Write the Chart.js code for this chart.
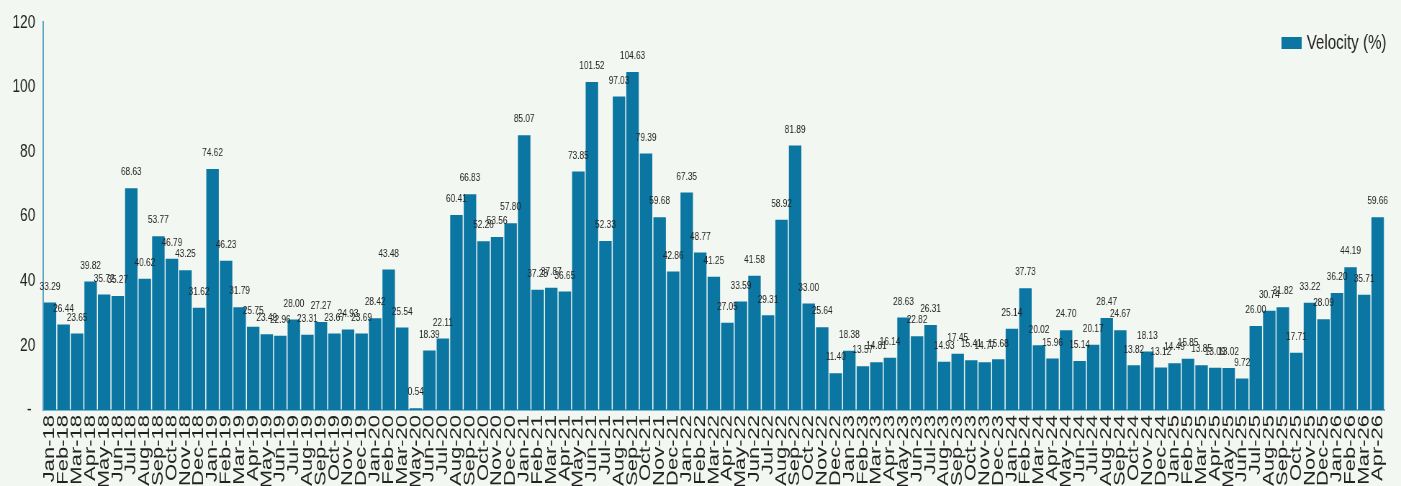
<!DOCTYPE html>
<html>
<head>
<meta charset="utf-8">
<script src="https://cdn.jsdelivr.net/npm/chart.js@4.4.1/dist/chart.umd.min.js"></script>
<style>
  html, body { margin: 0; padding: 0; background: #f3f7f2; overflow: hidden; width: 1401px; height: 486px; }
  #wrap { position: absolute; left: 0; top: 0; width: 1946px; height: 486px; transform: scaleX(0.71994); transform-origin: 0 0; }
</style>
</head>
<body>
<div id="wrap"><canvas id="c"></canvas></div>
<script>
const categories = [
  'Jan-18','Feb-18','Mar-18','Apr-18','May-18','Jun-18','Jul-18','Aug-18','Sep-18','Oct-18','Nov-18','Dec-18',
  'Jan-19','Feb-19','Mar-19','Apr-19','May-19','Jun-19','Jul-19','Aug-19','Sep-19','Oct-19','Nov-19','Dec-19',
  'Jan-20','Feb-20','Mar-20','May-20','Jun-20','Jul-20','Aug-20','Sep-20','Oct-20','Nov-20','Dec-20',
  'Jan-21','Feb-21','Mar-21','Apr-21','May-21','Jun-21','Jul-21','Aug-21','Sep-21','Oct-21','Nov-21','Dec-21',
  'Jan-22','Feb-22','Mar-22','Apr-22','May-22','Jun-22','Jul-22','Aug-22','Sep-22','Oct-22','Nov-22','Dec-22',
  'Jan-23','Feb-23','Mar-23','Apr-23','May-23','Jun-23','Jul-23','Aug-23','Sep-23','Oct-23','Nov-23','Dec-23',
  'Jan-24','Feb-24','Mar-24','Apr-24','May-24','Jun-24','Jul-24','Aug-24','Sep-24','Oct-24','Nov-24','Dec-24',
  'Jan-25','Feb-25','Mar-25','Apr-25','May-25','Jun-25','Jul-25','Aug-25','Sep-25','Oct-25','Nov-25','Dec-25',
  'Jan-26','Feb-26','Mar-26','Apr-26'
];

const velocity = [
  33.29, 26.44, 23.65, 39.82, 35.72, 35.27, 68.63, 40.62, 53.77, 46.79, 43.25, 31.62,
  74.62, 46.23, 31.79, 25.75, 23.49, 22.96, 28.00, 23.31, 27.27, 23.67, 24.93, 23.69,
  28.42, 43.48, 25.54, 0.54, 18.39, 22.11, 60.41, 66.83, 52.26, 53.56, 57.80,
  85.07, 37.23, 37.87, 36.65, 73.85, 101.52, 52.33, 97.03, 104.63, 79.39, 59.68, 42.86,
  67.35, 48.77, 41.25, 27.05, 33.59, 41.58, 29.31, 58.92, 81.89, 33.00, 25.64, 11.40,
  18.38, 13.57, 14.81, 16.14, 28.63, 22.82, 26.31, 14.93, 17.45, 15.41, 14.77, 15.68,
  25.14, 37.73, 20.02, 15.96, 24.70, 15.14, 20.17, 28.47, 24.67, 13.82, 18.13, 13.12,
  14.49, 15.85, 13.85, 13.09, 13.02, 9.72, 26.00, 30.74, 31.82, 17.71, 33.22, 28.09,
  36.20, 44.19, 35.71, 59.66
];

const seriesName = 'Velocity (%)';
const yMin = 0;
const yMax = 120;
const yStep = 20;

const FONT = '"Liberation Sans", Arial, sans-serif';
const BAR_COLOR = '#0a76a1';

const valueLabels = {
  id: 'valueLabels',
  afterDatasetsDraw(chart) {
    const ctx = chart.ctx;
    const meta = chart.getDatasetMeta(0);
    const values = chart.data.datasets[0].data;
    ctx.save();
    ctx.font = '11.5px ' + FONT;
    ctx.fillStyle = '#222';
    ctx.textAlign = 'center';
    ctx.textBaseline = 'middle';
    meta.data.forEach((bar, i) => {
      ctx.fillText(Number(values[i]).toFixed(2), bar.x, bar.y - 16);
    });
    ctx.restore();
  }
};

const legendBox = {
  id: 'legendBox',
  afterDraw(chart) {
    const ctx = chart.ctx;
    const ds = chart.data.datasets[0];
    const x0 = chart.width - 166;
    ctx.save();
    ctx.fillStyle = ds.backgroundColor;
    ctx.fillRect(x0, 37, 28, 12);
    ctx.font = '21px ' + FONT;
    ctx.fillStyle = '#222';
    ctx.textAlign = 'left';
    ctx.textBaseline = 'middle';
    ctx.fillText(ds.label, x0 + 35, 43.5);
    ctx.restore();
  }
};

new Chart(document.getElementById('c'), {
  type: 'bar',
  data: {
    labels: categories,
    datasets: [{
      label: seriesName,
      data: velocity,
      backgroundColor: BAR_COLOR,
      borderWidth: 0,
      barPercentage: 0.92,
      categoryPercentage: 1.0
    }]
  },
  options: {
    responsive: true,
    maintainAspectRatio: false,
    animation: false,
    devicePixelRatio: 1,
    layout: { padding: { top: 21, right: 23, left: 0, bottom: 0 } },
    plugins: {
      legend: { display: false },
      tooltip: { enabled: false }
    },
    scales: {
      x: {
        grid: { display: false, drawTicks: false },
        border: { display: true, color: '#7db7cf', width: 2 },
        ticks: {
          autoSkip: false,
          minRotation: 90,
          maxRotation: 90,
          padding: 5,
          color: '#222',
          font: { family: FONT, size: 22 }
        },
        afterFit(scale) { scale.height = 76; }
      },
      y: {
        min: yMin,
        max: yMax,
        grid: { display: false, drawTicks: false },
        border: { display: true, color: '#5aa3c4', width: 2 },
        ticks: {
          stepSize: yStep,
          padding: 11,
          color: '#222',
          font: { family: FONT, size: 19 },
          callback: (v) => (v === 0 ? '- ' : String(v))
        },
        afterFit(scale) { scale.width = 60; }
      }
    }
  },
  plugins: [valueLabels, legendBox]
});
</script>
</body>
</html>
